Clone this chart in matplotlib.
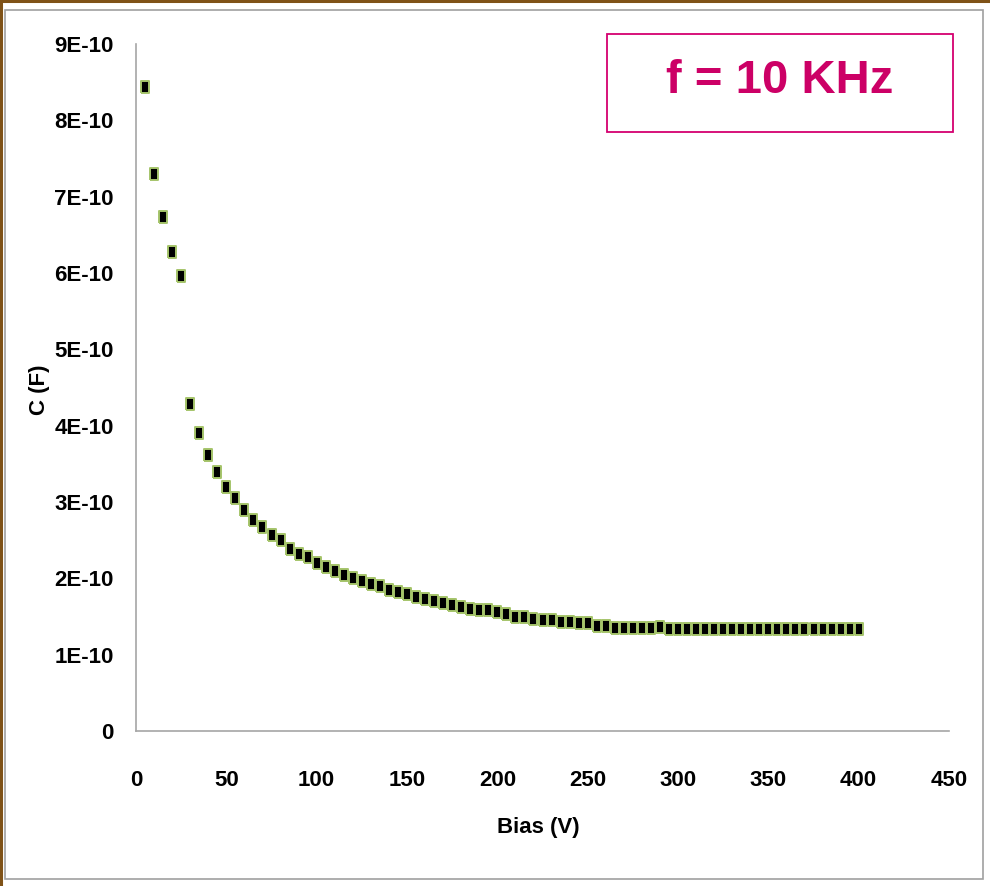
import matplotlib
matplotlib.use('Agg')
import matplotlib.pyplot as plt
from matplotlib.patches import Rectangle
from matplotlib.lines import Line2D

# bias voltage (V)
bias = [5, 10, 15, 20, 25, 30, 35, 40, 45, 50,
        55, 60, 65, 70, 75, 80, 85, 90, 95, 100,
        105, 110, 115, 120, 125, 130, 135, 140, 145, 150,
        155, 160, 165, 170, 175, 180, 185, 190, 195, 200,
        205, 210, 215, 220, 225, 230, 235, 240, 245, 250,
        255, 260, 265, 270, 275, 280, 285, 290, 295, 300,
        305, 310, 315, 320, 325, 330, 335, 340, 345, 350,
        355, 360, 365, 370, 375, 380, 385, 390, 395, 400]

# capacitance in units of 1E-10 F
cap = [8.44, 7.30, 6.73, 6.28, 5.96, 4.29, 3.91, 3.62, 3.39, 3.20,
       3.05, 2.90, 2.77, 2.67, 2.57, 2.50, 2.39, 2.32, 2.28, 2.20,
       2.15, 2.10, 2.05, 2.01, 1.97, 1.93, 1.90, 1.85, 1.82, 1.80,
       1.75, 1.73, 1.70, 1.68, 1.65, 1.63, 1.60, 1.58, 1.58, 1.56,
       1.53, 1.50, 1.50, 1.47, 1.45, 1.45, 1.43, 1.43, 1.41, 1.41,
       1.38, 1.38, 1.35, 1.35, 1.35, 1.35, 1.35, 1.36, 1.33, 1.33,
       1.33, 1.33, 1.33, 1.33, 1.33, 1.33, 1.33, 1.33, 1.33, 1.33,
       1.33, 1.33, 1.33, 1.33, 1.33, 1.33, 1.33, 1.33, 1.33, 1.33]

y_ticks = [0, 1e-10, 2e-10, 3e-10, 4e-10, 5e-10, 6e-10, 7e-10, 8e-10, 9e-10]
y_labels = ['0', '1E-10', '2E-10', '3E-10', '4E-10', '5E-10',
            '6E-10', '7E-10', '8E-10', '9E-10']
x_ticks = [0, 50, 100, 150, 200, 250, 300, 350, 400, 450]

W, H = 990, 886
sans = ['Liberation Sans', 'DejaVu Sans']

fig = plt.figure(figsize=(W / 100, H / 100), dpi=100)
fig.patch.set_facecolor('white')

# outer frames
fig.add_artist(Rectangle((5 / W, 1 - 879 / H), 978 / W, 869 / H, transform=fig.transFigure,
                         fill=False, edgecolor='#a0a0a0', linewidth=1.2))
fig.add_artist(Line2D([0, 1], [1 - 1 / H, 1 - 1 / H], transform=fig.transFigure,
                      color='#7f5217', linewidth=2.2))
fig.add_artist(Line2D([1 / W, 1 / W], [0, 1], transform=fig.transFigure,
                      color='#7f5217', linewidth=2.2))

ax = fig.add_axes([136 / W, 1 - 731 / H, 813 / W, 687 / H])
cap_f = [c * 1e-10 for c in cap]
sq = [(-0.78, -1), (0.78, -1), (0.78, 1), (-0.78, 1), (-0.78, -1)]
ax.plot(bias, cap_f, linestyle='none', marker=sq, markersize=8,
        markerfacecolor='black', markeredgecolor='#a5c46a', markeredgewidth=1.4)

ax.set_xlim(0, 450)
ax.set_ylim(0, 9e-10)
ax.set_xticks(x_ticks)
ax.set_xticklabels([str(v) for v in x_ticks])
ax.set_yticks(y_ticks)
ax.set_yticklabels(y_labels)
ax.tick_params(length=0)
ax.tick_params(axis='y', pad=16)
ax.tick_params(axis='x', pad=28)
for lab in ax.get_xticklabels() + ax.get_yticklabels():
    lab.set_family(sans)
    lab.set_fontweight('bold')
    lab.set_fontsize(16)

for s in ['top', 'right']:
    ax.spines[s].set_visible(False)
for s in ['left', 'bottom']:
    ax.spines[s].set_color('#a6a6a6')
    ax.spines[s].set_linewidth(1.2)

fig.text(40 / W, 1 - 390 / H, 'C (F)', rotation=90, ha='center', va='center',
         family=sans, fontweight='bold', fontsize=16)
fig.text(538 / W, 1 - 828 / H, 'Bias (V)', ha='center', va='center',
         family=sans, fontweight='bold', fontsize=16)

# frequency box
fig.add_artist(Rectangle((607 / W, 1 - 132 / H), 346 / W, 98 / H, transform=fig.transFigure,
                         fill=False, edgecolor='#d4006f', linewidth=1.3))
fig.text(780 / W, 1 - 93 / H, 'f = 10 KHz', ha='center', va='baseline',
         family=sans, fontweight='bold', fontsize=34, color='#cc0066')

fig.savefig('out.png', dpi=100, facecolor='white')
